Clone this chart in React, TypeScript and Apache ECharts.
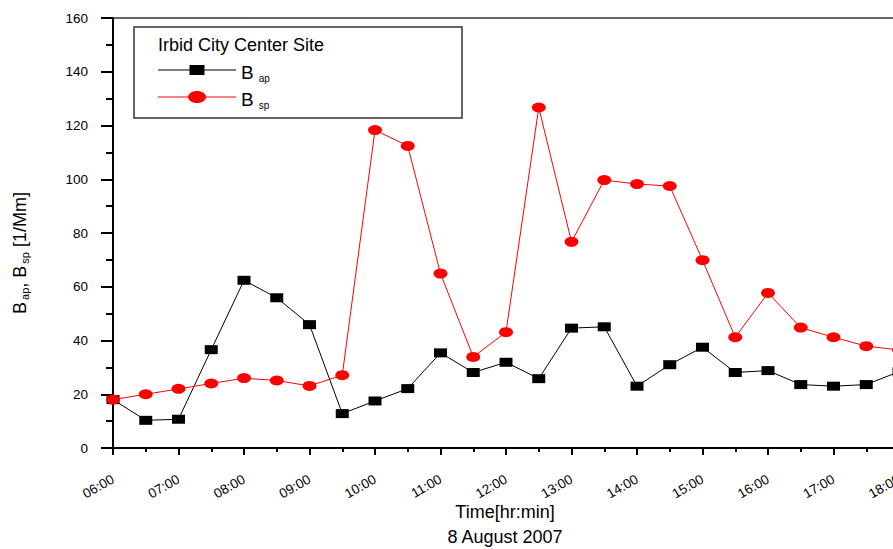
import React, { useEffect, useRef } from "react";
import * as echarts from "echarts";

const times = [
  "06:00", "06:30", "07:00", "07:30", "08:00", "08:30", "09:00", "09:30",
  "10:00", "10:30", "11:00", "11:30", "12:00", "12:30", "13:00", "13:30",
  "14:00", "14:30", "15:00", "15:30", "16:00", "16:30", "17:00", "17:30", "18:00",
];
const bap = [
  18.0, 10.3, 10.7, 36.6, 62.4, 55.9, 45.9, 12.8, 17.5, 22.1, 35.4, 28.1, 31.9,
  25.8, 44.6, 45.1, 23.0, 31.0, 37.5, 28.1, 28.8, 23.6, 23.0, 23.6, 28.4,
];
const bsp = [
  18.0, 20.0, 22.0, 24.0, 26.0, 25.1, 23.1, 27.1, 118.3, 112.4, 64.9, 33.9, 43.1,
  126.7, 76.7, 99.7, 98.2, 97.5, 69.9, 41.2, 57.7, 44.8, 41.2, 37.9, 36.5,
];
const legendTitle = "Irbid City Center Site";
const xTitle = "Time[hr:min]";
const dateTitle = "8 August 2007";

const toHours = (t: string) => {
  const [h, m] = t.split(":").map(Number);
  return h + m / 60;
};
const fmtHour = (v: number) => (v < 10 ? "0" : "") + v + ":00";

const FONT = "Liberation Sans, Arial, sans-serif";

export default function App() {
  const ref = useRef<HTMLDivElement>(null);
  useEffect(() => {
    document.body.style.margin = "0";
    const chart = echarts.init(ref.current!, undefined, { renderer: "svg", width: 893, height: 549 });
    const apData = times.map((t, i) => [toHours(t), bap[i]]);
    const spData = times.map((t, i) => [toHours(t), bsp[i]]);
    chart.setOption({
      animation: false,
      backgroundColor: "#fff",
      grid: {
        left: 113,
        top: 18,
        width: 786,
        height: 430,
        containLabel: false,
        outerBoundsMode: "none",
      },
      xAxis: [
        {
          type: "value",
          min: 6,
          max: 18,
          interval: 1,
          axisLine: { show: true, onZero: false, lineStyle: { color: "#000", width: 2 } },
          axisTick: { show: true, length: 7, lineStyle: { color: "#000", width: 2 } },
          minorTick: { show: true, splitNumber: 2, length: 4, lineStyle: { color: "#000", width: 2 } },
          splitLine: { show: false },
          axisLabel: {
            rotate: 30,
            margin: 30,
            fontSize: 13.5,
            color: "#000",
            fontFamily: FONT,
            hideOverlap: false,
            formatter: (v: number) => fmtHour(v),
          },
        },
        {
          type: "value",
          position: "top",
          min: 6,
          max: 18,
          axisLine: { show: true, onZero: false, lineStyle: { color: "#333", width: 1.5 } },
          axisTick: { show: false },
          axisLabel: { show: false },
          splitLine: { show: false },
        },
      ],
      yAxis: {
        type: "value",
        min: 0,
        max: 160,
        interval: 20,
        axisLine: { show: true, lineStyle: { color: "#000", width: 2 } },
        axisTick: { show: true, length: 12, lineStyle: { color: "#000", width: 2 } },
        minorTick: { show: true, splitNumber: 2, length: 7, lineStyle: { color: "#000", width: 2 } },
        splitLine: { show: false },
        axisLabel: { margin: 25, fontSize: 13.5, color: "#000", fontFamily: FONT },
      },
      series: [
        {
          name: "Bap",
          type: "line",
          data: apData,
          symbol: "rect",
          symbolSize: [13, 9],
          lineStyle: { color: "#000", width: 1 },
          itemStyle: { color: "#000" },
        },
        {
          name: "Bsp",
          type: "line",
          data: spData,
          symbol: "circle",
          symbolSize: [14, 10],
          lineStyle: { color: "#ff0000", width: 1 },
          itemStyle: { color: "#ff0000" },
        },
      ],
      graphic: [
        {
          type: "rect",
          shape: { x: 134, y: 27, width: 328, height: 91 },
          style: { fill: "#fff", stroke: "#333", lineWidth: 1.5 },
          z: 10,
        },
        {
          type: "text",
          x: 158,
          y: 45,
          z: 11,
          style: { text: legendTitle, fontSize: 18, fontFamily: FONT, fill: "#000", verticalAlign: "middle" },
        },
        { type: "line", z: 11, shape: { x1: 158, y1: 70, x2: 236, y2: 70 }, style: { stroke: "#000", lineWidth: 1 } },
        { type: "rect", z: 12, shape: { x: 189.5, y: 65, width: 15, height: 10 }, style: { fill: "#000" } },
        { type: "line", z: 11, shape: { x1: 158, y1: 97, x2: 236, y2: 97 }, style: { stroke: "#ff0000", lineWidth: 1 } },
        { type: "ellipse", z: 12, shape: { cx: 197, cy: 97, rx: 9, ry: 6 }, style: { fill: "#ff0000" } },
        {
          type: "text",
          x: 241,
          y: 72,
          z: 11,
          style: {
            text: "{b|B}{s|ap}",
            verticalAlign: "middle",
            rich: {
              b: { fontSize: 19, fontFamily: FONT, fill: "#000" },
              s: { fontSize: 10, fontFamily: FONT, fill: "#000", padding: [12, 0, 0, 5] },
            },
          },
        },
        {
          type: "text",
          x: 241,
          y: 99,
          z: 11,
          style: {
            text: "{b|B}{s|sp}",
            verticalAlign: "middle",
            rich: {
              b: { fontSize: 19, fontFamily: FONT, fill: "#000" },
              s: { fontSize: 10, fontFamily: FONT, fill: "#000", padding: [12, 0, 0, 5] },
            },
          },
        },
        {
          type: "text",
          x: 20,
          y: 253,
          rotation: Math.PI / 2,
          style: {
            text: "{b|B}{s|ap}{b|, B}{s|sp}{b| [1/Mm]}",
            align: "center",
            verticalAlign: "middle",
            rich: {
              b: { fontSize: 18, fontFamily: FONT, fill: "#000" },
              s: { fontSize: 11, fontFamily: FONT, fill: "#000", padding: [10, 0, 0, 2] },
            },
          },
        },
        {
          type: "text",
          x: 505,
          y: 512,
          style: { text: xTitle, fontSize: 18, fontFamily: FONT, fill: "#000", align: "center", verticalAlign: "middle" },
        },
        {
          type: "text",
          x: 505,
          y: 537,
          style: { text: dateTitle, fontSize: 18, fontFamily: FONT, fill: "#000", align: "center", verticalAlign: "middle" },
        },
      ],
    });
    return () => chart.dispose();
  }, []);
  return (
    <div
      ref={ref}
      style={{ position: "fixed", left: 0, top: 0, width: 893, height: 549 }}
    />
  );
}
